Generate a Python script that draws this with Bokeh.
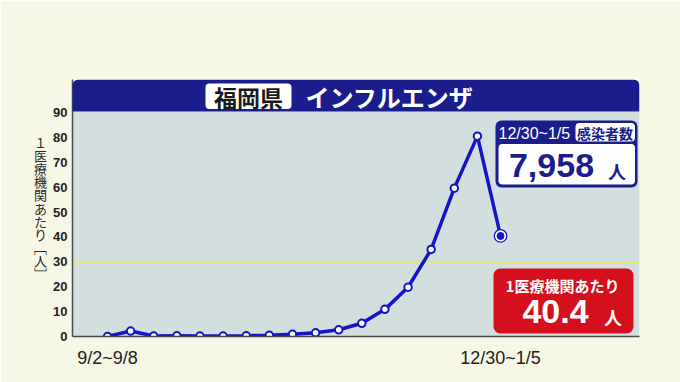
from bokeh.plotting import figure
from bokeh.models import FixedTicker, BoxAnnotation, Label, Span
from bokeh.embed import file_html
from bokeh.resources import INLINE

# ---------------- data ----------------
weeks = list(range(18))
week_tick_labels = {0: "9/2~9/8", 17: "12/30~1/5"}
per_institution = [0.0, 2.2, 0.2, 0.3, 0.2, 0.2, 0.3, 0.5, 0.9, 1.5,
                   2.7, 5.3, 10.9, 19.8, 35.0, 59.6, 80.5, 40.4]
y_ticks = [0, 10, 20, 30, 40, 50, 60, 70, 80, 90]
alert_level = 30
prefecture = "福岡県"
disease = "インフルエンザ"
latest_week = "12/30~1/5"
cases_title = "感染者数"
total_cases = "7,958"
per_title = "1医療機関あたり"
latest_per = "40.4"
unit = "人"
y_title_chars = ["１", "医", "療", "機", "関", "あ", "た", "り", "﹇", "人", "﹈"]

# ---------------- layout helpers (page px -> data) ----------------
W, H = 680, 382
BL, BR, BT, BB = 72, 41, 79, 46
SX = 23.12
SY = 2.489
X0 = -35 / SX
X1 = X0 + (W - BL - BR) / SX
Y1 = (H - BB - BT) / SY


def X(px):
    return X0 + (px - BL) / SX


def Y(py):
    return (H - BB - py) / SY


CREAM = "#f7f7e6"
GREY = "#d3dfdf"
NAVY = "#1c1d8c"
BLUE = "#1414c8"
RED = "#d3101c"
JP = "Noto Sans CJK JP"
LAT = "Liberation Sans"

p = figure(width=W, height=H, x_range=(X0, X1), y_range=(0, Y1),
           min_border_left=BL, min_border_right=BR, min_border_top=BT,
           min_border_bottom=BB, background_fill_color=CREAM,
           border_fill_color=CREAM, outline_line_color=None,
           output_backend="svg", toolbar_location=None)
p.grid.visible = False

# plot area and header
p.add_layout(BoxAnnotation(bottom=0, top=Y(111), fill_color=GREY, fill_alpha=1,
                           line_color=None, level="underlay"))
p.add_layout(Span(location=alert_level, dimension="width", line_color="#f0f020",
                  line_width=1.5, level="underlay"))
p.add_layout(BoxAnnotation(bottom=Y(111), top=Y1, fill_color=NAVY, fill_alpha=1,
                           line_color=None, border_radius=(6, 6, 0, 0)))

# axes
for ax in (p.xaxis[0], p.yaxis[0]):
    ax.axis_line_color = "#4a4a4a"
    ax.axis_line_width = 1.5
    ax.major_tick_line_color = None
    ax.minor_tick_line_color = None
    ax.major_tick_out = 0
    ax.major_tick_in = 0
    ax.major_label_text_color = "#222222"
    ax.major_label_text_font = LAT

p.yaxis.ticker = FixedTicker(ticks=y_ticks)
p.yaxis.major_label_text_font_size = "13px"
p.yaxis.major_label_text_font_style = "bold"
p.yaxis.major_label_standoff = 5
p.yaxis.axis_label = "\n".join(y_title_chars)
p.yaxis.axis_label_orientation = "horizontal"
p.yaxis.axis_label_text_font = JP
p.yaxis.axis_label_text_font_size = "13px"
p.yaxis.axis_label_text_font_style = "normal"
p.yaxis.axis_label_text_color = "#2a2a2a"
p.yaxis.axis_label_text_line_height = 0.69
p.yaxis.axis_label_standoff = 3
p.xaxis.ticker = FixedTicker(ticks=list(week_tick_labels.keys()))
p.xaxis.major_label_overrides = week_tick_labels
p.xaxis.major_label_text_font_size = "18px"
p.xaxis.major_label_standoff = 11

# data
p.line(weeks, per_institution, line_color=BLUE, line_width=3.5)
p.scatter(weeks[:-1], per_institution[:-1], size=7.5, fill_color="white",
          line_color=BLUE, line_width=2)
p.scatter(weeks[-1:], per_institution[-1:], size=12.5, fill_color="white",
          line_color=BLUE, line_width=1.3)
p.scatter(weeks[-1:], per_institution[-1:], size=7, fill_color=BLUE,
          line_color=BLUE, line_width=1)

# header texts
p.add_layout(BoxAnnotation(left=X(205), right=X(291), top=Y(83), bottom=Y(108.5),
                           fill_color="white", fill_alpha=1, line_color=None,
                           border_radius=4))
p.add_layout(Label(x=X(248), y=Y(96), text=prefecture, text_font=JP,
                   text_font_style="bold", text_font_size="23px",
                   text_color="#1a1a1a", text_align="center",
                   text_baseline="middle"))
p.add_layout(Label(x=X(305), y=Y(96), text=disease, text_font=JP,
                   text_font_style="bold", text_font_size="24px",
                   text_color="white", text_align="left",
                   text_baseline="middle"))

# cases box
p.add_layout(BoxAnnotation(left=X(495), right=X(637), top=Y(120), bottom=Y(187),
                           fill_color=NAVY, fill_alpha=1, line_color=None,
                           border_radius=6))
p.add_layout(BoxAnnotation(left=X(498), right=X(634.5), top=Y(143.5), bottom=Y(184),
                           fill_color="white", fill_alpha=1, line_color=None,
                           border_radius=4))
p.add_layout(BoxAnnotation(left=X(575), right=X(634.5), top=Y(122.5), bottom=Y(141),
                           fill_color="white", fill_alpha=1, line_color=None,
                           border_radius=4))
p.add_layout(Label(x=X(498), y=Y(133), text=latest_week, text_font=LAT,
                   text_font_size="16px", text_color="white",
                   text_align="left", text_baseline="middle"))
p.add_layout(Label(x=X(604.5), y=Y(132), text=cases_title, text_font=JP,
                   text_font_style="bold", text_font_size="14px",
                   text_color=NAVY, text_align="center", text_baseline="middle"))
p.add_layout(Label(x=X(551), y=Y(165), text=total_cases, text_font=LAT,
                   text_font_style="bold", text_font_size="34px",
                   text_color=NAVY, text_align="center", text_baseline="middle"))
p.add_layout(Label(x=X(616.5), y=Y(170), text=unit, text_font=JP,
                   text_font_style="bold", text_font_size="18px",
                   text_color=NAVY, text_align="center", text_baseline="middle"))

# per-institution box
p.add_layout(BoxAnnotation(left=X(493), right=X(633), top=Y(268), bottom=Y(333),
                           fill_color=RED, fill_alpha=1, line_color=None,
                           border_radius=7))
p.add_layout(Label(x=X(562), y=Y(284.5), text=per_title, text_font=JP,
                   text_font_style="bold", text_font_size="15px",
                   text_color="white", text_align="center",
                   text_baseline="middle"))
p.add_layout(Label(x=X(555), y=Y(311), text=latest_per, text_font=LAT,
                   text_font_style="bold", text_font_size="34px",
                   text_color="white", text_align="center",
                   text_baseline="middle"))
p.add_layout(Label(x=X(612.5), y=Y(316), text=unit, text_font=JP,
                   text_font_style="bold", text_font_size="18px",
                   text_color="white", text_align="center",
                   text_baseline="middle"))

open("out.html", "w").write(file_html(p, INLINE))
